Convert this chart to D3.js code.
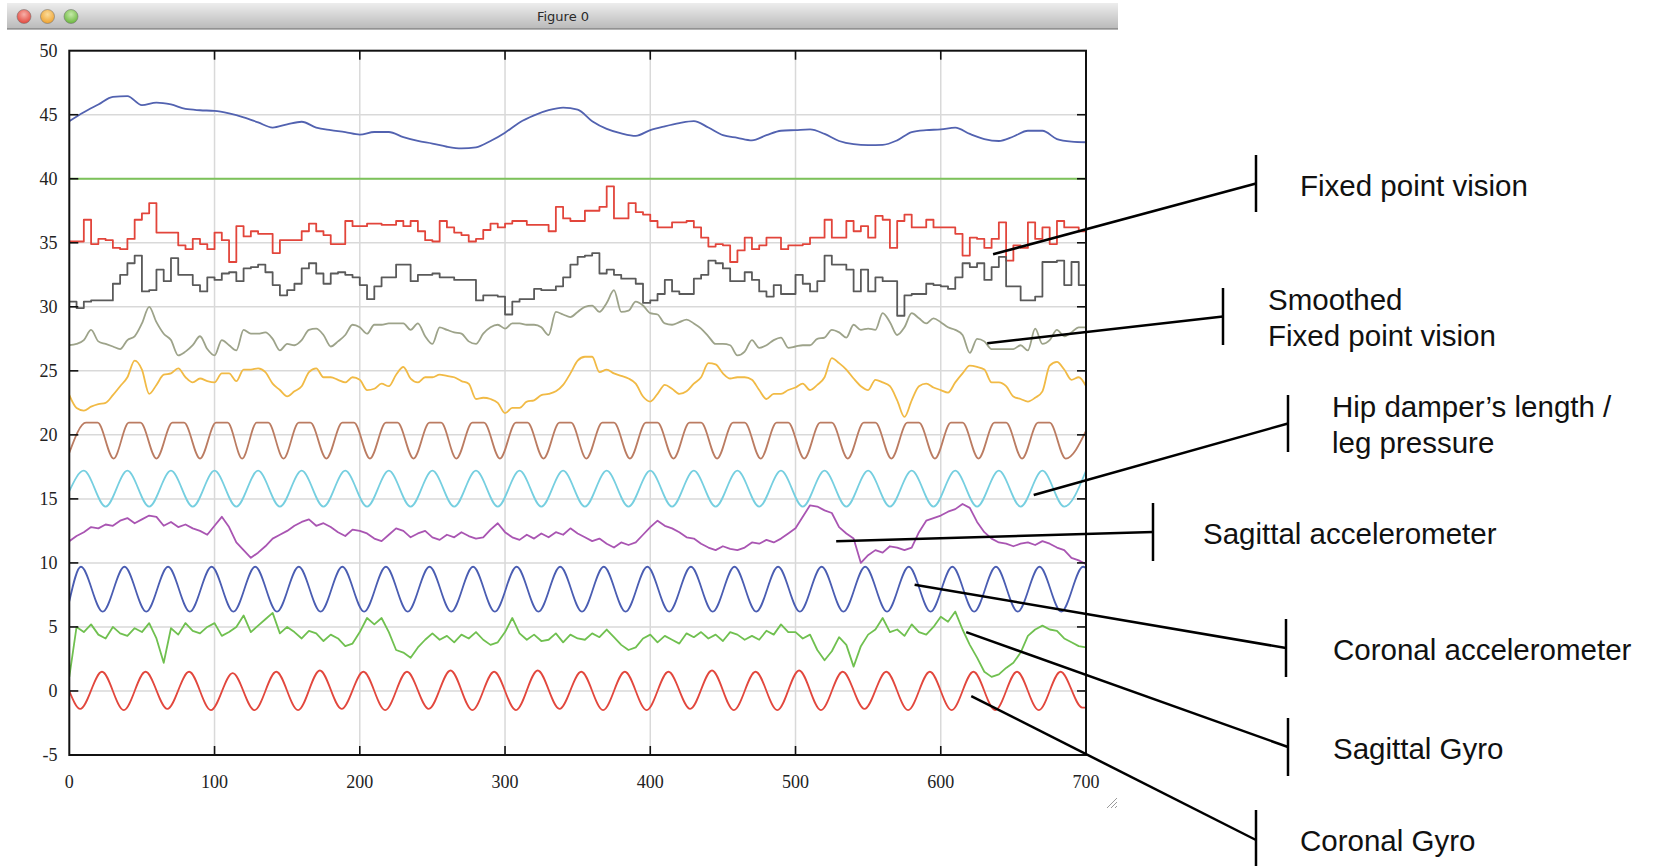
<!DOCTYPE html>
<html>
<head>
<meta charset="utf-8">
<script src="https://cdn.jsdelivr.net/npm/d3@7"></script>
<style>
	html, body { margin: 0; padding: 0; background: #fff; }
	svg { display: block; }
	.tick-label { font-family: "Liberation Serif", "Times New Roman", serif; font-size: 18px; fill: #222; }
	.note { font-family: "Liberation Sans", Arial, sans-serif; font-size: 29.5px; fill: #111; }
	.title { font-family: "DejaVu Sans", sans-serif; font-size: 13px; fill: #2a2a2a; }
</style>
</head>
<body>
<div id="chart"></div>
<script>
// axis ticks
const xTicks = [0, 100, 200, 300, 400, 500, 600, 700];
const yTicks = [-5, 0, 5, 10, 15, 20, 25, 30, 35, 40, 45, 50];

// sampled every 10 units
const blueTop = [44.5, 45.2, 45.8, 46.4, 46.45, 45.75, 45.95, 45.8, 45.45, 45.35,
	45.3, 45.1, 44.8, 44.4, 44.0, 44.25, 44.45, 44.0, 43.8, 43.65,
	43.45, 43.65, 43.65, 43.25, 42.95, 42.75, 42.5, 42.37, 42.45, 42.95,
	43.6, 44.4, 44.95, 45.35, 45.55, 45.4, 44.5, 43.9, 43.55, 43.35,
	43.8, 44.1, 44.35, 44.5, 44.0, 43.4, 43.2, 43.0, 43.4, 43.75,
	43.8, 43.85, 43.5, 42.95, 42.7, 42.63, 42.65, 43.0, 43.65, 43.8,
	43.85, 44.0, 43.5, 43.1, 42.95, 43.3, 43.75, 43.75, 43.1, 42.9, 42.85];

const greenFlat = [40, 40];

// sampled every 5 units
const redStep = [35.1, 35.1, 36.8, 34.9, 35.3, 35.2, 34.6, 34.5, 35.3, 36.8,
	37.3, 38.1, 35.8, 35.8, 35.8, 34.8, 34.5, 35.3, 34.9, 34.5,
	35.8, 35.2, 33.5, 36.3, 35.5, 35.9, 35.7, 35.7, 34.2, 35.2,
	35.2, 35.2, 35.9, 36.5, 35.9, 35.6, 34.9, 34.9, 36.7, 36.3,
	36.3, 36.5, 36.5, 36.4, 36.4, 36.7, 36.3, 36.7, 35.9, 35.2,
	35.1, 36.7, 36.2, 35.8, 35.6, 35.1, 35.3, 36.0, 36.5, 36.2,
	36.5, 36.7, 36.7, 36.4, 36.4, 36.4, 35.9, 37.8, 36.9, 36.7,
	36.7, 37.5, 37.5, 37.8, 39.4, 36.9, 36.9, 38.1, 37.4, 37.2,
	36.7, 36.2, 36.2, 36.6, 36.6, 36.7, 36.2, 35.4, 34.7, 34.9,
	34.8, 33.5, 34.4, 35.4, 34.5, 34.8, 35.4, 35.4, 34.5, 34.8,
	34.8, 34.9, 35.4, 35.4, 36.8, 35.4, 35.4, 36.7, 35.9, 36.3,
	35.4, 37.1, 36.8, 34.6, 36.7, 37.2, 36.2, 36.2, 36.8, 36.2,
	36.2, 36.2, 35.7, 34.0, 35.4, 35.3, 34.6, 35.3, 36.6, 33.6,
	34.8, 34.6, 36.6, 35.3, 36.2, 34.9, 36.7, 36.2, 36.2, 35.9, 36.2];

const grayStep = [30.4, 29.9, 30.4, 30.5, 30.5, 30.5, 31.8, 32.5, 33.4, 34.0,
	31.2, 31.3, 32.9, 32.0, 33.8, 32.5, 32.5, 31.7, 31.2, 32.3,
	32.1, 32.6, 32.7, 32.0, 33.0, 33.1, 33.3, 32.7, 31.7, 30.9,
	31.3, 31.8, 33.0, 33.4, 32.6, 31.8, 32.6, 32.7, 32.5, 32.3,
	31.7, 30.6, 31.6, 32.3, 32.3, 33.3, 33.3, 32.0, 32.5, 32.5,
	32.6, 32.3, 32.3, 32.1, 32.1, 32.1, 30.5, 30.9, 30.9, 30.8,
	29.4, 30.4, 30.6, 30.6, 31.4, 31.3, 31.3, 31.6, 32.3, 33.3,
	33.9, 34.0, 34.2, 32.6, 32.9, 32.5, 32.2, 32.2, 31.8, 30.3,
	30.5, 31.0, 32.1, 31.2, 31.0, 31.0, 32.2, 32.5, 33.6, 33.4,
	33.0, 32.0, 32.0, 32.7, 32.1, 31.2, 30.8, 31.7, 31.0, 31.0,
	32.5, 31.8, 31.2, 32.0, 34.0, 33.3, 33.3, 32.9, 31.2, 32.9,
	31.2, 32.3, 32.0, 32.0, 29.3, 30.9, 31.0, 31.0, 31.8, 31.7,
	31.6, 31.4, 32.3, 33.4, 33.1, 33.4, 32.1, 33.1, 33.9, 31.6,
	31.6, 30.5, 30.5, 30.8, 33.5, 33.5, 33.6, 31.7, 33.5, 31.7, 32.1];

const oliveLine = [27.0, 27.1, 27.4, 28.2, 27.3, 27.1, 26.9, 26.7, 27.4, 27.7,
	28.7, 30.0, 28.8, 27.9, 27.4, 26.2, 26.5, 27.0, 27.7, 26.7,
	26.2, 27.4, 27.0, 26.6, 28.2, 27.9, 27.9, 28.0, 27.5, 26.6,
	27.1, 27.0, 27.4, 28.2, 28.3, 27.8, 26.9, 27.3, 27.8, 28.6,
	28.4, 27.9, 28.6, 28.6, 28.7, 28.7, 28.7, 28.2, 28.7, 27.7,
	27.1, 28.4, 28.2, 28.0, 27.9, 27.3, 27.1, 27.9, 28.4, 28.6,
	28.3, 28.7, 28.7, 28.6, 28.6, 28.4, 27.8, 29.6, 29.4, 29.2,
	29.6, 30.0, 30.1, 29.6, 30.3, 31.3, 29.6, 29.7, 30.4, 30.1,
	29.5, 29.4, 28.7, 28.6, 28.8, 29.0, 28.7, 28.3, 27.7, 27.1,
	27.1, 27.0, 26.2, 26.5, 27.4, 26.8, 27.0, 27.4, 27.6, 26.8,
	26.9, 27.0, 27.0, 27.5, 27.6, 28.2, 28.0, 27.6, 28.6, 28.2,
	28.3, 28.2, 29.5, 28.8, 27.8, 28.4, 29.5, 29.1, 28.7, 29.1,
	28.8, 28.4, 28.2, 27.8, 26.4, 27.5, 27.3, 26.7, 26.7, 26.7,
	26.7, 27.0, 26.6, 28.3, 27.1, 27.4, 28.2, 27.7, 28.0, 28.4, 28.4];

const orangeLine = [23.1, 22.1, 21.9, 22.2, 22.4, 22.5, 23.1, 23.8, 24.5, 25.8,
	25.1, 23.2, 23.9, 24.7, 24.8, 25.2, 24.5, 24.1, 24.4, 24.2,
	24.1, 24.8, 24.8, 24.2, 25.1, 25.1, 25.2, 24.9, 24.0, 23.5,
	23.0, 23.4, 23.8, 24.9, 25.2, 24.5, 24.5, 24.3, 24.1, 24.5,
	24.3, 23.5, 23.6, 24.0, 23.8, 24.7, 25.3, 24.4, 24.1, 24.5,
	24.5, 24.7, 24.6, 24.5, 24.2, 24.0, 22.8, 22.9, 22.8, 22.5,
	21.7, 22.1, 22.1, 22.6, 22.7, 23.1, 23.2, 23.4, 23.9, 24.8,
	25.8, 26.1, 26.1, 24.9, 25.1, 24.8, 24.6, 24.4, 24.0, 23.0,
	22.6, 23.2, 23.9, 23.6, 23.2, 23.4, 24.0, 24.5, 25.6, 25.5,
	24.8, 24.4, 24.5, 24.5, 24.3, 23.5, 22.8, 23.2, 23.2, 23.5,
	23.7, 24.0, 23.5, 23.9, 24.5, 26.0, 25.6, 25.1, 24.4, 23.8,
	23.5, 24.3, 24.1, 23.8, 22.7, 21.4, 22.7, 23.8, 24.0, 23.7,
	23.5, 23.3, 24.1, 24.8, 25.4, 25.3, 25.1, 24.1, 24.1, 23.8,
	23.0, 22.8, 22.6, 22.9, 23.4, 25.4, 25.7, 25.1, 24.3, 24.5, 23.8];

const purpleLine = [11.7, 12.1, 12.4, 12.8, 12.7, 13.0, 12.9, 13.3, 13.5, 13.1,
	13.4, 13.7, 13.6, 12.9, 13.2, 12.8, 13.0, 12.7, 12.5, 12.2,
	12.9, 13.6, 12.8, 11.6, 11.0, 10.4, 10.8, 11.3, 11.9, 12.2,
	12.5, 12.9, 13.2, 13.4, 12.9, 13.1, 12.8, 12.4, 12.1, 12.6,
	12.5, 12.3, 11.9, 11.7, 12.2, 12.7, 12.5, 12.0, 12.3, 12.5,
	12.0, 11.8, 12.2, 12.0, 12.4, 12.1, 11.9, 12.0, 12.6, 13.1,
	12.4, 12.0, 11.8, 12.2, 11.9, 12.3, 12.0, 12.4, 12.2, 12.7,
	12.3, 12.0, 11.7, 11.9, 11.5, 11.2, 11.6, 11.4, 11.6, 12.2,
	12.8, 13.3, 12.9, 12.7, 12.4, 12.0, 11.9, 11.5, 11.2, 11.0,
	11.3, 11.1, 11.0, 11.2, 11.6, 11.5, 11.8, 11.6, 11.9, 12.3,
	12.7, 13.6, 14.5, 14.4, 14.1, 13.9, 12.8, 12.3, 11.9, 10.0,
	10.6, 11.0, 10.8, 11.3, 11.2, 11.0, 11.2, 12.4, 13.3, 13.5,
	13.7, 14.0, 14.2, 14.6, 14.3, 13.2, 12.4, 11.9, 11.6, 11.5,
	11.3, 11.5, 11.6, 11.4, 11.7, 11.5, 11.2, 11.0, 10.4, 10.2, 9.9];

const greenNoisy = [1.1, 5.0, 4.6, 5.2, 4.4, 4.1, 5.0, 4.5, 4.3, 4.9,
	4.6, 5.3, 4.1, 2.2, 4.9, 4.4, 5.3, 4.7, 4.5, 5.0,
	5.3, 4.3, 4.6, 5.0, 5.9, 4.6, 5.1, 5.6, 6.1, 4.5,
	5.0, 4.6, 4.1, 4.7, 4.5, 3.9, 4.4, 4.1, 3.5, 3.7,
	4.6, 5.7, 5.2, 5.7, 4.6, 3.2, 3.0, 2.6, 3.4, 4.0,
	4.5, 4.0, 4.3, 3.8, 4.4, 4.1, 4.6, 4.0, 3.6, 3.8,
	4.6, 5.7, 4.5, 4.0, 4.4, 3.9, 4.0, 4.5, 3.8, 4.4,
	4.1, 4.0, 4.5, 4.2, 4.8, 4.2, 3.6, 3.2, 3.4, 4.1,
	4.4, 3.8, 4.3, 4.0, 3.7, 4.5, 4.2, 4.6, 4.1, 4.4,
	3.9, 4.6, 4.4, 4.0, 4.3, 4.0, 4.7, 4.4, 5.2, 4.6,
	4.6, 4.1, 4.4, 3.2, 2.4, 3.1, 4.2, 3.6, 1.9, 3.5,
	4.4, 4.8, 5.7, 4.6, 4.8, 4.3, 5.2, 4.6, 4.4, 5.0,
	5.8, 5.4, 6.2, 4.8, 3.6, 2.6, 1.5, 1.1, 1.3, 1.8,
	2.2, 3.0, 4.3, 4.8, 5.1, 4.8, 4.7, 4.1, 3.8, 3.5, 3.4];

// turning points of the periodic traces
const brownX = [0, 11.5, 19.5, 30.5, 41, 49, 60, 71, 79, 90, 101, 109, 119, 129, 137, 147.5,
	158, 166, 177, 188, 196, 207, 218, 226, 237, 248, 256, 266.5, 277.5, 285.5, 296.5,
	307.5, 315.5, 326.5, 337.5, 345.5, 356, 367, 375, 386, 397, 405, 416, 427, 435, 446,
	457, 465, 476, 487, 495, 506, 517, 525, 536, 547, 555, 566, 577, 585, 596, 607, 615,
	626, 637, 645, 656, 667, 675, 686, 700];
const brownY = [18.6, 20.95, 20.95, 18.15, 20.95, 20.95, 18.15, 20.95, 20.95, 18.15,
	20.95, 20.95, 18.15, 20.95, 20.95, 18.15, 20.95, 20.95, 18.15, 20.95, 20.95, 18.15,
	20.95, 20.95, 18.15, 20.95, 20.95, 18.15, 20.95, 20.95, 18.15, 20.95, 20.95, 18.15,
	20.95, 20.95, 18.15, 20.95, 20.95, 18.15, 20.95, 20.95, 18.15, 20.95, 20.95, 18.15,
	20.95, 20.95, 18.15, 20.95, 20.95, 18.15, 20.95, 20.95, 18.15, 20.95, 20.95, 18.15,
	20.95, 20.95, 18.15, 20.95, 20.95, 18.15, 20.95, 20.95, 18.15, 20.95, 20.95, 18.15, 20.3];

const cyanX = [0, 10, 25, 40, 55, 70, 85, 100, 115, 130, 145, 160, 175, 190, 205, 220, 235,
	250, 265, 280, 295, 310, 325, 340, 355, 370, 385, 400, 415, 430, 445, 460, 475, 490,
	505, 520, 535, 550, 565, 580, 595, 610, 625, 640, 655, 670, 685, 700];
const cyanY = [15.6, 17.2, 14.4, 17.2, 14.4, 17.2, 14.4, 17.2, 14.4, 17.2, 14.4, 17.2,
	14.4, 17.2, 14.4, 17.2, 14.4, 17.2, 14.4, 17.2, 14.4, 17.2, 14.4, 17.2, 14.4, 17.2,
	14.4, 17.2, 14.4, 17.2, 14.4, 17.2, 14.4, 17.2, 14.4, 17.2, 14.4, 17.2, 14.4, 17.2,
	14.4, 17.2, 14.4, 17.2, 14.4, 17.2, 14.4, 17.2];

const blueX = [0, 8, 23, 38, 53, 68, 83, 98, 113, 128, 143, 158, 173, 188, 203, 218, 233,
	248, 263, 278, 293, 308, 323, 338, 353, 368, 383, 398, 413, 428, 443, 458, 473, 488,
	503, 518, 533, 548, 563, 578, 593, 608, 623, 638, 653, 668, 683, 698, 700];
const blueY = [7.0, 9.7, 6.2, 9.7, 6.2, 9.7, 6.2, 9.7, 6.2, 9.7, 6.2, 9.7, 6.2, 9.7, 6.2,
	9.7, 6.2, 9.7, 6.2, 9.7, 6.2, 9.7, 6.2, 9.7, 6.2, 9.7, 6.2, 9.7, 6.2, 9.7, 6.2, 9.7,
	6.2, 9.7, 6.2, 9.7, 6.2, 9.7, 6.2, 9.7, 6.2, 9.7, 6.2, 9.7, 6.2, 9.7, 6.2, 9.7, 9.6];

const redX = [0, 7.5, 22.5, 37.5, 52.5, 67.5, 82.5, 97.5, 112.5, 127.5, 142.5, 157.5, 172.5,
	187.5, 202.5, 217.5, 232.5, 247.5, 262.5, 277.5, 292.5, 307.5, 322.5, 337.5, 352.5,
	367.5, 382.5, 397.5, 412.5, 427.5, 442.5, 457.5, 472.5, 487.5, 502.5, 517.5, 532.5,
	547.5, 562.5, 577.5, 592.5, 607.5, 622.5, 637.5, 652.5, 667.5, 682.5, 697.5, 700];
const redY = [0, -1.4, 1.5, -1.5, 1.5, -1.4, 1.5, -1.5, 1.4, -1.5, 1.5, -1.5, 1.6, -1.4,
	1.5, -1.5, 1.5, -1.4, 1.6, -1.5, 1.5, -1.5, 1.6, -1.4, 1.5, -1.5, 1.5, -1.5, 1.5,
	-1.4, 1.6, -1.5, 1.5, -1.5, 1.6, -1.5, 1.5, -1.4, 1.5, -1.5, 1.5, -1.5, 1.5, -1.5,
	1.5, -1.5, 1.5, -1.3, -1.3];

// annotations: label lines, bracket x, bracket top/bottom, tip in data units
const notes = [
	{ lines: ['Fixed point vision'], tx: 1300, ty: [196], bx: 1256, by: [155, 212], tip: [636, 34.1] },
	{ lines: ['Smoothed', 'Fixed point vision'], tx: 1268, ty: [310, 346], bx: 1223, by: [288, 345], tip: [632, 27.15] },
	{ lines: ['Hip damper\u2019s length /', 'leg pressure'], tx: 1332, ty: [417, 453], bx: 1288, by: [395, 452], tip: [664, 15.3] },
	{ lines: ['Sagittal accelerometer'], tx: 1203, ty: [544], bx: 1153, by: [503, 561], tip: [528, 11.7] },
	{ lines: ['Coronal accelerometer'], tx: 1333, ty: [660], bx: 1286, by: [619, 677], tip: [582, 8.3] },
	{ lines: ['Sagittal Gyro'], tx: 1333, ty: [759], bx: 1288, by: [718, 776], tip: [617.5, 4.6] },
	{ lines: ['Coronal Gyro'], tx: 1300, ty: [851], bx: 1256, by: [810, 870], tip: [621, -0.4] }
];

let canvasWidth = 1656;
let canvasHeight = 866;
let margin = { top: 50.7, left: 69.3, right: 1086, bottom: 755 };

let x = d3.scaleLinear().domain([0, 700]).range([margin.left, margin.right]);
let y = d3.scaleLinear().domain([-5, 50]).range([margin.bottom, margin.top]);

let svg = d3.select('#chart').append('svg')
	.attr('width', canvasWidth)
	.attr('height', canvasHeight);

// window title bar
let defs = svg.append('defs');
let tg = defs.append('linearGradient').attr('id', 'bar').attr('x1', 0).attr('x2', 0).attr('y1', 0).attr('y2', 1);
tg.append('stop').attr('offset', 0).attr('stop-color', '#ededed');
tg.append('stop').attr('offset', 1).attr('stop-color', '#b9b9b9');

svg.append('rect')
	.attr('x', 7).attr('y', 3)
	.attr('width', 1111).attr('height', 26)
	.attr('fill', 'url(#bar)');
svg.append('line')
	.attr('x1', 7).attr('x2', 1118).attr('y1', 29).attr('y2', 29)
	.attr('stroke', '#6a6a6a').attr('stroke-width', 1.2);

[['#e2463c', '#f7b0a8', 24], ['#eea12e', '#fbdc9a', 47.5], ['#69b63c', '#c6eaa8', 71]].forEach((b, i) => {
	let g = defs.append('radialGradient').attr('id', 'btn' + i)
		.attr('cx', 0.5).attr('cy', 0.35).attr('r', 0.65);
	g.append('stop').attr('offset', 0).attr('stop-color', b[1]);
	g.append('stop').attr('offset', 1).attr('stop-color', b[0]);
	svg.append('circle')
		.attr('cx', b[2]).attr('cy', 16.5).attr('r', 7)
		.attr('fill', 'url(#btn' + i + ')')
		.attr('stroke', '#777').attr('stroke-width', 0.6);
});

svg.append('text')
	.attr('class', 'title')
	.attr('x', 563).attr('y', 21)
	.attr('text-anchor', 'middle')
	.text('Figure 0');

// grid
let grid = svg.append('g').attr('class', 'grid');
grid.selectAll('.gx').data(xTicks.slice(1, -1)).enter().append('line')
	.attr('x1', (o) => x(o)).attr('x2', (o) => x(o))
	.attr('y1', margin.top).attr('y2', margin.bottom)
	.attr('stroke', '#d9d9d9').attr('stroke-width', 1.5);
grid.selectAll('.gy').data(yTicks.slice(1, -1)).enter().append('line')
	.attr('y1', (o) => y(o)).attr('y2', (o) => y(o))
	.attr('x1', margin.left).attr('x2', margin.right)
	.attr('stroke', '#d9d9d9').attr('stroke-width', 1.5);

// traces
svg.append('clipPath').attr('id', 'plot').append('rect')
	.attr('x', margin.left).attr('y', margin.top)
	.attr('width', margin.right - margin.left).attr('height', margin.bottom - margin.top);

let traces = svg.append('g').attr('clip-path', 'url(#plot)');

function every(values, step) {
	return values.map((v, i) => [i * step, v]);
}
function paired(xs, ys) {
	return xs.map((v, i) => [v, ys[i]]);
}

let series = [
	{ pts: every(blueTop, 10), color: '#5262b0', curve: d3.curveMonotoneX },
	{ pts: every(greenFlat, 700), color: '#7cc25a', curve: d3.curveLinear },
	{ pts: every(redStep, 5), color: '#e2453b', curve: d3.curveStepAfter },
	{ pts: every(grayStep, 5), color: '#5a5a5a', curve: d3.curveStepAfter },
	{ pts: every(oliveLine, 5), color: '#9da38a', curve: d3.curveMonotoneX },
	{ pts: every(orangeLine, 5), color: '#f1ba45', curve: d3.curveMonotoneX },
	{ pts: paired(brownX, brownY), color: '#bb7c62', curve: d3.curveMonotoneX },
	{ pts: paired(cyanX, cyanY), color: '#76cfe0', curve: d3.curveMonotoneX },
	{ pts: every(purpleLine, 5), color: '#a955b2', curve: d3.curveLinear },
	{ pts: paired(blueX, blueY), color: '#4a5db2', curve: d3.curveMonotoneX },
	{ pts: every(greenNoisy, 5), color: '#70c050', curve: d3.curveLinear },
	{ pts: paired(redX, redY), color: '#e2473d', curve: d3.curveMonotoneX }
];

series.forEach((s) => {
	traces.append('path')
		.datum(s.pts)
		.attr('fill', 'none')
		.attr('stroke', s.color)
		.attr('stroke-width', 1.8)
		.attr('stroke-linejoin', 'round')
		.attr('d', d3.line().x((o) => x(o[0])).y((o) => y(o[1])).curve(s.curve));
});

// frame and inside ticks
let axes = svg.append('g').attr('stroke', '#111').attr('stroke-width', 1.6);
axes.selectAll('.tb').data(xTicks.slice(1, -1)).enter().append('line')
	.attr('x1', (o) => x(o)).attr('x2', (o) => x(o))
	.attr('y1', margin.bottom).attr('y2', margin.bottom - 9);
axes.selectAll('.tt').data(xTicks.slice(1, -1)).enter().append('line')
	.attr('x1', (o) => x(o)).attr('x2', (o) => x(o))
	.attr('y1', margin.top).attr('y2', margin.top + 9);
axes.selectAll('.tl').data(yTicks.slice(1, -1)).enter().append('line')
	.attr('x1', margin.left).attr('x2', margin.left + 9)
	.attr('y1', (o) => y(o)).attr('y2', (o) => y(o));
axes.selectAll('.tr').data(yTicks.slice(1, -1)).enter().append('line')
	.attr('x1', margin.right).attr('x2', margin.right - 9)
	.attr('y1', (o) => y(o)).attr('y2', (o) => y(o));
svg.append('rect')
	.attr('x', margin.left).attr('y', margin.top)
	.attr('width', margin.right - margin.left).attr('height', margin.bottom - margin.top)
	.attr('fill', 'none').attr('stroke', '#111').attr('stroke-width', 2);

svg.selectAll('.xl').data(xTicks).enter().append('text')
	.attr('class', 'tick-label')
	.attr('x', (o) => x(o)).attr('y', 788)
	.attr('text-anchor', 'middle')
	.text((o) => o);
svg.selectAll('.yl').data(yTicks).enter().append('text')
	.attr('class', 'tick-label')
	.attr('x', 57.5).attr('y', (o) => y(o))
	.attr('dy', '0.34em')
	.attr('text-anchor', 'end')
	.text((o) => o);

// resize grip
[0, 4, 8].forEach((d) => {
	svg.append('line')
		.attr('x1', 1107 + d).attr('y1', 808)
		.attr('x2', 1117).attr('y2', 798 + d)
		.attr('stroke', '#9a9a9a').attr('stroke-width', 1);
});

// annotations
let ann = svg.append('g');
notes.forEach((n) => {
	ann.append('line')
		.attr('x1', n.bx).attr('x2', n.bx)
		.attr('y1', n.by[0]).attr('y2', n.by[1])
		.attr('stroke', '#000').attr('stroke-width', 2.5);
	ann.append('line')
		.attr('x1', n.bx).attr('y1', (n.by[0] + n.by[1]) / 2)
		.attr('x2', x(n.tip[0])).attr('y2', y(n.tip[1]))
		.attr('stroke', '#000').attr('stroke-width', 2.5);
	n.lines.forEach((t, i) => {
		ann.append('text')
			.attr('class', 'note')
			.attr('x', n.tx).attr('y', n.ty[i])
			.text(t);
	});
});
</script>
</body>
</html>
